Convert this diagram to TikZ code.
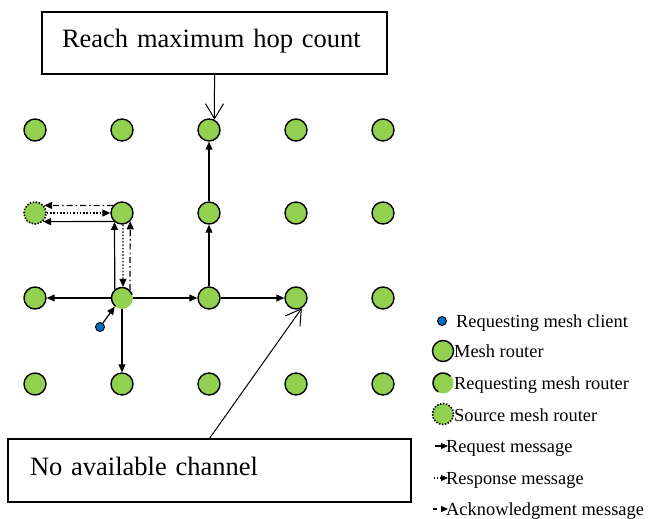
\documentclass[tikz,border=0pt]{standalone}
\usepackage{fontspec}
\setmainfont{Liberation Serif}
\usetikzlibrary{arrows.meta,calc}
\definecolor{mgreen}{HTML}{92D050}
\definecolor{mblue}{HTML}{0070C0}
\begin{document}
\begin{tikzpicture}[x=1pt,y=-1pt,
  router/.style={circle, draw=black, fill=mgreen, line width=1.4pt, minimum size=22pt, inner sep=0pt},
  reqrouter/.style={circle, fill=mgreen, minimum size=22pt, inner sep=0pt},
  ring/.style={draw=black, line width=1.5pt, line cap=round},
  srcrouter/.style={circle, draw=black, fill=mgreen, line width=1.6pt, dash pattern=on 1.5pt off 1.5pt, minimum size=22pt, inner sep=0pt},
  client/.style={circle, draw=black, fill=mblue, line width=0.9pt, minimum size=9pt, inner sep=0pt},
  req/.style={line width=1.2pt, -{Triangle[length=8pt,width=7pt]}},
  resp/.style={req, dash pattern=on 1.5pt off 1.8pt},
  ack/.style={req, dash pattern=on 6pt off 3pt on 1.5pt off 3pt},
  lreq/.style={line width=1.2pt, -{Triangle[length=7pt,width=6pt]}},
  lresp/.style={lreq, dash pattern=on 1.2pt off 1.8pt},
  lack/.style={lreq, dash pattern=on 4pt off 4pt},
  callout/.style={line width=1pt, -{Straight Barb[length=15pt,width=18pt,line width=1pt]}},
  box/.style={draw=black, line width=1.2pt, align=left, font=\fontsize{26.5}{30}\selectfont, text height=18pt, text depth=8pt},
  legtext/.style={anchor=base west, inner sep=0pt, font=\fontsize{18.4}{21}\selectfont}
]
\useasboundingbox (0,0) rectangle (656,519);

% grid of mesh routers
\foreach \c/\x in {1/35,2/122,3/209,4/296,5/383}{
  \foreach \r/\y in {1/130,2/213,3/298,4/384}{
    \ifnum\c\r=23\relax\else\ifnum\c\r=12\relax\else
      \node[router] (n\c\r) at (\x,\y) {};
    \fi\fi
  }
}
\node[srcrouter] (n12) at (35,213) {};
\node[reqrouter] (n23) at (122,298) {};
\draw[ring] plot[domain=20:230, samples=40, smooth] ({122+10.4*cos(\x)}, {298-10.4*sin(\x)});

% requesting client
\node[client] (cl) at (100,327) {};
\draw[req] (cl) -- (n23.-130);

% request messages
\draw[req] (n23) -- (n13);
\draw[req] (n23) -- (n33);
\draw[req] (n23) -- (n24);
\draw[req] (n33) -- (n43);
\draw[req] (n33) -- (n32);
\draw[req] (n32) -- (n31);
\draw[req] (n23.130) -- (n22.-130);
\draw[req] (n22.-133) -- (n12.-47);

% response messages
\draw[resp] (n22.-85) -- (n23.85);
\draw[resp] (n12) -- (n22);

% acknowledgment messages
\draw[ack] (n23.45) -- (n22.-45);
\draw[ack] (n22.140) -- (n12.40);

% callout boxes
\node[box, minimum width=345pt, minimum height=62pt, inner xsep=20pt, text width=305pt] (topbox) at (214.5,43) {Reach maximum hop count};
\node[box, minimum width=403pt, minimum height=63pt, inner xsep=22pt, text width=359pt] (botbox) at (209.5,470.5) {No available channel};
\draw[callout] (topbox.south) -- (n31.62);
\draw[callout] (botbox.north) -- (n43.-60);

% legend
\node[client] (lg1) at (442,321) {};
\node[legtext] (lt1) at (456,327) {Requesting mesh client};
\node[router, minimum size=21pt] (lg2) at (443,351) {};
\node[legtext] (lt2) at (454,357) {Mesh router};
\node[reqrouter, minimum size=21pt] (lg3) at (443,383) {};
\draw[ring] plot[domain=45:240, samples=40, smooth] ({443+9.9*cos(\x)}, {383-9.9*sin(\x)});
\node[legtext] (lt3) at (454,389) {Requesting mesh router};
\node[srcrouter, minimum size=21pt] (lg4) at (443,414) {};
\node[legtext] (lt4) at (454,421) {Source mesh router};
\coordinate (la1) at (435,446);
\coordinate (lb1) at (448,446);
\draw[lreq] (la1) -- (lb1);
\node[legtext] (lt5) at (446,452) {Request message};
\coordinate (la2) at (434,478);
\coordinate (lb2) at (448,478);
\draw[lresp] (la2) -- (lb2);
\node[legtext] (lt6) at (446,484) {Response message};
\coordinate (la3) at (433,509);
\coordinate (lb3) at (448,509);
\draw[lack] (la3) -- (lb3);
\node[legtext] (lt7) at (446,515) {Acknowledgment message};
\end{tikzpicture}
\end{document}
